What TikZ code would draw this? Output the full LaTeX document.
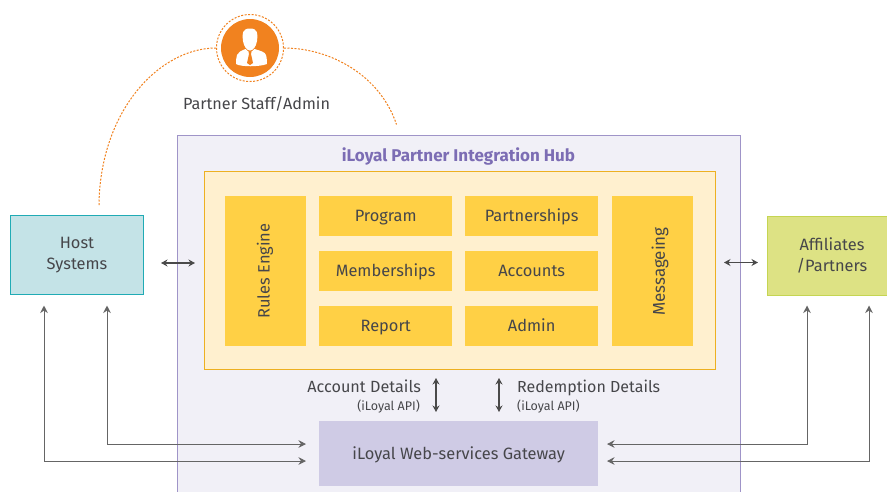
\documentclass[tikz,border=0pt]{standalone}
\usepackage{fontspec}
\setmainfont{Fira Sans}[Scale=1]
\usetikzlibrary{arrows.meta}
\definecolor{txt}{HTML}{46464A}
\definecolor{orng}{HTML}{F1821F}
\definecolor{hubfill}{HTML}{F1F0F7}
\definecolor{hubline}{HTML}{9F94C8}
\definecolor{hubtitle}{HTML}{7C6DB4}
\definecolor{creamfill}{HTML}{FFF0CF}
\definecolor{creamline}{HTML}{EDB021}
\definecolor{mod}{HTML}{FFD045}
\definecolor{gatefill}{HTML}{CFCBE5}
\definecolor{hostfill}{HTML}{C4E3E7}
\definecolor{hostline}{HTML}{20ABB5}
\definecolor{afffill}{HTML}{DDE284}
\definecolor{affline}{HTML}{C5D552}
\definecolor{linegrey}{HTML}{4A4A4A}
\tikzset{
  box/.style={draw=none,inner sep=0pt,align=center,text=txt,font=\fontsize{16.4}{21}\selectfont,anchor=north west},
  modbox/.style={box,fill=mod,text height=11pt,text depth=0pt},
  dbl/.style={{Stealth[length=6.5pt,width=7pt]}-{Stealth[length=6.5pt,width=7pt]},draw=linegrey,line width=1.1pt},
  sgl/.style={{Stealth[length=7.5pt,width=7.5pt]}-{Stealth[length=7.5pt,width=7.5pt]},draw=linegrey!85!white,line width=0.95pt},
  orangedash/.style={draw=orng,line width=1pt,dash pattern=on 2pt off 1.5pt},
  lbl/.style={text=txt,inner sep=0pt,font=\fontsize{16.2}{20}\selectfont},
  sublbl/.style={text=txt,inner sep=0pt,font=\fontsize{12.5}{14}\selectfont}
}
\begin{document}
\begin{tikzpicture}[x=1pt,y=-1pt]
\useasboundingbox (0,0) rectangle (887,491);
\clip (0,0) rectangle (887,491);
\fill[white] (0,0) rectangle (887,491);
% hub
\node[box,fill=hubfill,draw=hubline,line width=0.9pt,minimum width=563pt,minimum height=370pt] (hub) at (177,135) {};
\node[inner sep=0pt,anchor=base,text=hubtitle,font=\fontsize{17}{20}\selectfont\bfseries] (hubt) at (458.5,161) {iLoyal Partner Integration Hub};
\node[box,fill=creamfill,draw=creamline,line width=0.9pt,minimum width=511pt,minimum height=198pt] (core) at (204,171) {};
% modules
\node[modbox,minimum width=81pt,minimum height=150pt] (rules) at (225,196) {};
\node[text=txt,rotate=90,inner sep=0pt,font=\fontsize{16.4}{20}\selectfont] (rulest) at (265,271) {Rules Engine};
\node[modbox,minimum width=133pt,minimum height=40pt] (prog) at (319,196) {Program};
\node[modbox,minimum width=133pt,minimum height=40pt] (memb) at (319,251) {Memberships};
\node[modbox,minimum width=133pt,minimum height=40pt] (rep) at (319,306) {Report};
\node[modbox,minimum width=133pt,minimum height=40pt] (part) at (465,196) {Partnerships};
\node[modbox,minimum width=133pt,minimum height=40pt] (acc) at (465,251) {Accounts};
\node[modbox,minimum width=133pt,minimum height=40pt] (adm) at (465,306) {Admin};
\node[modbox,minimum width=81pt,minimum height=150pt] (msg) at (612,196) {};
\node[text=txt,rotate=90,inner sep=0pt,font=\fontsize{17}{20}\selectfont] (msgt) at (660,271.5) {Messageing};
% gateway
\node[box,fill=gatefill,minimum width=279pt,minimum height=65pt,text height=11pt,text depth=0pt] (gw) at (319,421) {iLoyal Web-services Gateway};
% host and affiliates
\node[box,fill=hostfill,draw=hostline,line width=1pt,minimum width=133pt,minimum height=79pt] (host) at (10,215) {Host\\Systems};
\node[box,fill=afffill,draw=affline,line width=1pt,minimum width=130pt,minimum height=79pt] (aff) at (766.5,215.5) {Affiliates\\/Partners};
% labels
\node[lbl,anchor=base east] (accl) at (421,392) {Account Details};
\node[sublbl,anchor=base east] (accs) at (420,410) {(iLoyal API)};
\node[lbl,anchor=base west,font=\fontsize{16}{20}\selectfont] (redl) at (517,392) {Redemption Details};
\node[sublbl,anchor=base west] (reds) at (517,410) {(iLoyal API)};
% partner
\coordinate (pc) at (250,48);
\node[circle,fill=orng,minimum size=58pt,inner sep=0pt] (pic) at (pc) {};
\node[circle,draw=orng,line width=1pt,dash pattern=on 2pt off 1.5pt,minimum size=67pt,inner sep=0pt] (ring) at (pc) {};
\node[lbl,anchor=base] (pl) at (256.5,109) {Partner Staff/Admin};
\begin{scope}[shift={(1,1)}]
\fill[white] (249,27.5) .. controls (241,27.5) and (241,33) .. (242,40) .. controls (243,46) and (246,49.5) .. (249,49.5) .. controls (252,49.5) and (255,46) .. (256,40) .. controls (257,33) and (257,27.5) .. (249,27.5) -- cycle;
\fill[white] (244.5,48) -- (249,52) -- (253.5,48) .. controls (260,50) and (264,51) .. (265,54) .. controls (266,58) and (266,61) .. (266,63) .. controls (258,66) and (240,66) .. (235,63) .. controls (235,60) and (235,57) .. (236,54) .. controls (237,51) and (240,50) .. (244.5,48) -- cycle;
\fill[orng] (247.5,50.5) -- (250.5,50.5) -- (250,53) -- (252,62) -- (249,64) -- (246,62) -- (248,53) -- cycle;
\end{scope}
% arcs
\coordinate (al) at (99,205);
\coordinate (ar) at (396.5,124.5);
\draw[orangedash] (al) .. controls (100,110) and (160,48) .. (ring.west);
\draw[orangedash] (ring.east) .. controls (330,48) and (380,75) .. (ar);
% double arrows
\coordinate (h1) at (161,263); \coordinate (h2) at (195,263);
\draw[dbl] (h1) -- (h2);
\coordinate (m1) at (724,262.5); \coordinate (m2) at (758,262.5);
\draw[dbl] (m1) -- (m2);
\coordinate (v1a) at (436,378); \coordinate (v1b) at (436,412);
\draw[dbl] (v1a) -- (v1b);
\coordinate (v2a) at (499,378); \coordinate (v2b) at (499,412);
\draw[dbl] (v2a) -- (v2b);
% elbows
\coordinate (hA) at (44,305.5); \coordinate (hB) at (107,305.5);
\coordinate (gA) at (306,461); \coordinate (gB) at (306,444);
\coordinate (aA) at (869,305.5); \coordinate (aB) at (807,305.5);
\coordinate (gC) at (607,461); \coordinate (gD) at (607,444);
\draw[sgl] (hA) |- (gA);
\draw[sgl] (hB) |- (gB);
\draw[sgl] (aA) |- (gC);
\draw[sgl] (aB) |- (gD);
\end{tikzpicture}
\end{document}
